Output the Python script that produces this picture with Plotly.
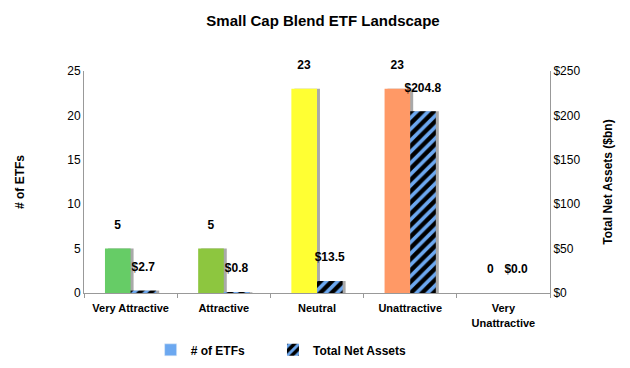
import plotly.graph_objects as go

categories = ["Very Attractive", "Attractive", "Neutral", "Unattractive", "Very Unattractive"]
category_labels = ["Very Attractive", "Attractive", "Neutral", "Unattractive", "Very<br>Unattractive"]
num_etfs = [5, 5, 23, 23, 0]
total_net_assets = [2.7, 0.8, 13.5, 204.8, 0.0]
bar_colors = ["#66CC66", "#8DC63F", "#FFFF33", "#FF9966", "#EEEEEE"]

left_ticks = [0, 5, 10, 15, 20, 25]
right_ticks = [0, 50, 100, 150, 200, 250]
right_ticklabels = ["$" + str(v) for v in right_ticks]

BLUE = "#6CA8F0"
FONT = "Liberation Sans, Arial, sans-serif"
W = 0.275
SH = 0.032
SHADOW = "rgba(140,140,140,0.75)"
lift = "<br><span style='font-size:3px'> </span>"

fig = go.Figure()

# shadows
fig.add_trace(go.Bar(x=categories, y=num_etfs, offset=-W + SH, width=W,
                     marker=dict(color=SHADOW, line=dict(width=0)),
                     showlegend=False, hoverinfo="skip", yaxis="y"))
fig.add_trace(go.Bar(x=categories, y=total_net_assets, offset=SH, width=W,
                     marker=dict(color=SHADOW, line=dict(width=0)),
                     showlegend=False, hoverinfo="skip", yaxis="y2"))

# main bars
fig.add_trace(go.Bar(x=categories, y=num_etfs, offset=-W, width=W,
                     marker=dict(color=bar_colors, line=dict(width=0)),
                     text=[str(v) + lift for v in num_etfs], textposition="outside",
                     constraintext="none",
                     textfont=dict(family=FONT, size=12, color="black", weight="bold"),
                     cliponaxis=False, showlegend=False, yaxis="y", name="# of ETFs"))
fig.add_trace(go.Bar(x=[None], y=[None], name="# of ETFs" + "\u00a0" * 7,
                     marker=dict(color=BLUE), yaxis="y", legendrank=1))
fig.add_trace(go.Bar(x=categories, y=total_net_assets, offset=0, width=W,
                     marker=dict(color="black", line=dict(width=0),
                                 pattern=dict(shape="/", fgcolor=BLUE, bgcolor="black",
                                              size=8, solidity=0.45, fillmode="replace")),
                     text=["$" + f"{v:.1f}" + lift for v in total_net_assets], textposition="outside",
                     constraintext="none",
                     textfont=dict(family=FONT, size=12, color="black", weight="bold"),
                     cliponaxis=False, name="Total Net Assets", yaxis="y2", legendrank=2))

fig.update_layout(
    width=630, height=368,
    margin=dict(l=76, r=88, t=63, b=75),
    paper_bgcolor="white", plot_bgcolor="white",
    font=dict(family=FONT, color="black", size=12),
    title=dict(text="<b>Small Cap Blend ETF Landscape</b>", x=0.5, xref="container",
               y=1 - 13 / 368, yanchor="middle", yref="container",
               font=dict(family=FONT, size=15, color="black")),
    barmode="overlay",
    showlegend=True,
    legend=dict(orientation="h", x=0.143, xanchor="left", y=-0.256, yanchor="middle",
                font=dict(family=FONT, size=12, color="black", weight="bold"),
                itemwidth=30, bgcolor="rgba(0,0,0,0)"),
    xaxis=dict(tickmode="array", tickvals=categories, ticktext=category_labels,
               tickson="boundaries", ticks="outside", ticklen=4, tickcolor="#999",
               ticklabelstandoff=5,
               showline=True, linecolor="#999", linewidth=1, showgrid=False,
               tickfont=dict(family=FONT, size=11, color="black", weight="bold")),
    yaxis=dict(range=[0, 25], tickvals=left_ticks, showline=True, linecolor="#999",
               showgrid=False, zeroline=False, ticks="",
               tickfont=dict(family=FONT, size=12, color="black"),
               title=dict(text="<b># of ETFs</b>", standoff=40,
                          font=dict(family=FONT, size=12, color="black"))),
    yaxis2=dict(range=[0, 250], tickvals=right_ticks, ticktext=right_ticklabels,
                overlaying="y", side="right", showline=True, linecolor="#999",
                showgrid=False, zeroline=False, ticks="",
                tickfont=dict(family=FONT, size=12, color="black"),
                title=dict(text="<b>Total Net Assets ($bn)</b>", standoff=24,
                           font=dict(family=FONT, size=12, color="black"))),
)

fig.write_html("out.html")
